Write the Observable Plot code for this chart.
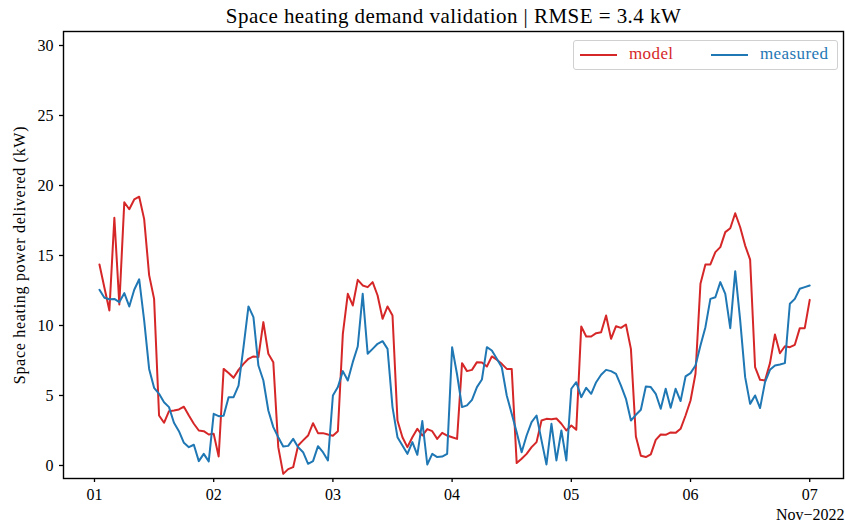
<!DOCTYPE html>
<html>
<head>
<meta charset="utf-8">
<script src="https://cdn.jsdelivr.net/npm/d3@7"></script>
<script src="https://cdn.jsdelivr.net/npm/@observablehq/plot@0.6"></script>
<style>
  body { margin: 0; background: #fff; }
  #chart, #chart svg, #chart svg text, .legend {
    font-family: "Liberation Serif", "Times New Roman", "DejaVu Serif", serif !important;
  }
  #chart { position: relative; width: 845px; height: 528px; }
  #chart svg { display: block; }
  .legend {
    position: absolute; left: 573px; top: 40px; width: 265px; height: 30px;
    box-sizing: border-box; border: 1px solid #d0d0d0; border-radius: 3px;
    background: rgba(255,255,255,0.85); font-size: 17px; letter-spacing: 0.4px;
  }
  .legend .item { position: absolute; top: 0; height: 28px; line-height: 26px; white-space: nowrap; }
  .legend .swatch { display: inline-block; width: 37px; height: 2px; vertical-align: middle; margin-right: 12px; }
</style>
</head>
<body>
<div id="chart"></div>
<script>
// Hourly space heating power (kW), 1 Nov 2022 01:00 to 7 Nov 2022 00:00
const model = [
  14.36, 12.7, 11.07, 17.7, 11.5, 18.8, 18.3, 19.0, 19.2, 17.6, 13.6, 11.9,
  3.57, 3.05, 3.88, 3.93, 4.0, 4.2, 3.57, 2.98, 2.5, 2.45, 2.21, 2.26,
  0.64, 6.9, 6.6, 6.26, 6.83, 7.26, 7.62, 7.79, 7.74, 10.24, 7.98, 7.38,
  1.31, -0.6, -0.26, -0.12, 1.43, 1.79, 2.14, 3.02, 2.31, 2.31, 2.21, 2.12,
  2.45, 9.4, 12.26, 11.43, 13.26, 12.86, 12.74, 13.1, 12.14, 10.48, 11.36, 10.71,
  3.21, 2.02, 1.31, 2.02, 2.62, 2.14, 2.6, 2.45, 1.9, 2.33, 2.14, 2.02,
  1.9, 7.31, 6.74, 6.83, 7.38, 7.36, 7.07, 7.79, 7.55, 7.26, 6.9, 6.9,
  0.17, 0.48, 0.83, 1.31, 1.67, 3.21, 3.33, 3.31, 3.36, 2.98, 2.5, 2.86,
  2.55, 9.93, 9.21, 9.21, 9.45, 9.52, 10.71, 9.05, 9.95, 9.83, 10.07, 8.33,
  2.07, 0.69, 0.6, 0.79, 1.83, 2.21, 2.19, 2.36, 2.33, 2.62, 3.57, 4.64,
  6.55, 12.98, 14.36, 14.36, 15.24, 15.6, 16.67, 16.95, 18.02, 17.02, 15.71, 14.71,
  7.02, 6.12, 6.07, 7.31, 9.36, 8.02, 8.52, 8.45, 8.62, 9.81, 9.81, 11.83
];
const measured = [
  12.55, 11.98, 11.88, 11.9, 11.67, 12.31, 11.36, 12.55, 13.3, 10.36, 6.9, 5.55,
  5.12, 4.52, 4.17, 3.05, 2.45, 1.62, 1.31, 1.48, 0.31, 0.83, 0.29, 3.69,
  3.52, 3.55, 4.88, 4.88, 5.71, 8.45, 11.36, 10.6, 7.14, 6.07, 3.93, 2.74,
  2.02, 1.36, 1.4, 1.9, 1.31, 0.95, 0.12, 0.31, 1.38, 0.95, 0.36, 5.0,
  5.6, 6.74, 6.07, 7.38, 8.5, 12.26, 7.98, 8.33, 8.69, 8.88, 8.33, 4.17,
  2.02, 1.43, 0.83, 1.67, 0.76, 3.17, 0.07, 0.83, 0.6, 0.64, 0.83, 8.45,
  6.5, 4.17, 4.29, 4.69, 5.6, 6.14, 8.45, 8.21, 7.62, 7.02, 5.0, 3.69,
  2.38, 0.95, 2.14, 3.1, 3.57, 1.79, 0.07, 2.98, 0.36, 2.5, 0.36, 5.48,
  5.95, 4.88, 5.55, 5.12, 5.95, 6.48, 6.83, 6.74, 6.55, 5.71, 4.76, 3.21,
  3.62, 3.98, 5.64, 5.6, 5.12, 4.05, 5.48, 4.12, 5.48, 4.6, 6.36, 6.6,
  7.14, 8.57, 9.88, 11.9, 12.02, 13.1, 12.26, 9.81, 13.88, 10.36, 6.31, 4.4,
  5.0, 4.1, 5.95, 6.83, 7.14, 7.21, 7.31, 11.55, 11.9, 12.62, 12.74, 12.86
];
const seriesNames = ["model", "measured"];
const seriesColors = ["#d62728", "#1f77b4"];
const yTicks = [0, 5, 10, 15, 20, 25, 30];
const titleText = "Space heating demand validation | RMSE = 3.4 kW";
const yLabel = "Space heating power delivered (kW)";
const monthLabel = "Nov\u22122022";

const SERIF = '"Liberation Serif", "Times New Roman", "DejaVu Serif", serif';
const HOUR = 3600e3;
const t0 = Date.UTC(2022, 10, 1);
const firstHour = 1;
const timeAt = i => new Date(t0 + (firstHour + i) * HOUR);

const rows = [];
[model, measured].forEach((values, k) => {
  values.forEach((v, i) => rows.push({time: timeAt(i), value: v, series: seriesNames[k]}));
});
const days = d3.utcDay.range(new Date(t0), new Date(t0 + 6.5 * 24 * HOUR));

const plot = Plot.plot({
  width: 845,
  height: 528,
  marginLeft: 63,
  marginRight: 2,
  marginTop: 31,
  marginBottom: 50,
  style: {fontFamily: SERIF, fontSize: "16px", color: "black", background: "white"},
  x: {type: "utc", domain: [new Date(t0 - 6.24 * HOUR), new Date(t0 + 150.8 * HOUR)]},
  y: {domain: [-0.93, 31.0]},
  color: {domain: seriesNames, range: seriesColors},
  marks: [
    Plot.line(rows, {x: "time", y: "value", z: "series", stroke: "series", strokeWidth: 2, curve: "linear"}),
    Plot.axisX({ticks: days, tickFormat: d3.utcFormat("%d"), tickSize: 4, tickPadding: 6, fontSize: 16, fontFamily: SERIF, label: null, strokeWidth: 1.3}),
    Plot.axisY({ticks: yTicks, tickSize: 4, tickPadding: 6, fontSize: 16, fontFamily: SERIF, label: null, strokeWidth: 1.3}),
    Plot.frame({stroke: "black", strokeWidth: 1.4}),
    Plot.text([titleText], {frameAnchor: "top", lineAnchor: "top", textAnchor: "middle", dy: -23, fontSize: 21, fontFamily: SERIF}),
    Plot.text([yLabel], {frameAnchor: "left", lineAnchor: "middle", textAnchor: "middle", dx: -44, rotate: -90, fontSize: 16, fontFamily: SERIF}),
    Plot.text([monthLabel], {frameAnchor: "bottom-right", lineAnchor: "top", textAnchor: "end", dx: 1, dy: 30, fontSize: 16, fontFamily: SERIF})
  ]
});

const chart = document.getElementById("chart");
chart.appendChild(plot);

// Slightly wider tracking for the title and axis label
const svg = d3.select(plot.tagName === "svg" ? plot : plot.querySelector("svg"));
svg.selectAll("text").filter(function() { return this.textContent === titleText; }).attr("letter-spacing", "0.45px");
svg.selectAll("text").filter(function() { return this.textContent === yLabel; }).attr("letter-spacing", "0.7px");

// Legend box in the upper right, text in the line colours
const legend = document.createElement("div");
legend.className = "legend";
const lefts = [6, 137];
seriesNames.forEach((name, k) => {
  const item = document.createElement("div");
  item.className = "item";
  item.style.left = lefts[k] + "px";
  item.style.color = seriesColors[k];
  const sw = document.createElement("span");
  sw.className = "swatch";
  sw.style.background = seriesColors[k];
  item.appendChild(sw);
  item.appendChild(document.createTextNode(name));
  legend.appendChild(item);
});
chart.appendChild(legend);
</script>
</body>
</html>
